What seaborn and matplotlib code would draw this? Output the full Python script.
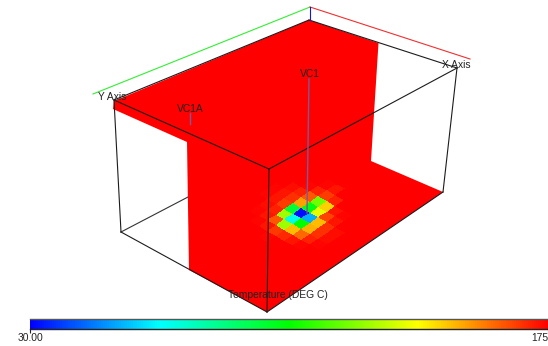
import numpy as np
import pandas as pd
import matplotlib
matplotlib.use('Agg')
import matplotlib.pyplot as plt
import seaborn as sns
from matplotlib.colors import LinearSegmentedColormap
from matplotlib.transforms import Affine2D

# temperature cells on the floor around the fire, rows run along b, columns along a
floor_temps = [
    [175, 175, 175, 175, 174, 174, 175, 175, 175],
    [175, 175, 174, 173, 172, 172, 173, 175, 175],
    [175, 174, 172, 170, 166, 168, 170, 174, 175],
    [175, 172, 163, 125, 95, 152, 162, 170, 174],
    [174, 167, 125, 70, 32, 100, 118, 166, 172],
    [175, 169, 148, 103, 55, 135, 145, 170, 175],
    [175, 172, 160, 150, 148, 165, 172, 175, 175],
    [175, 174, 170, 168, 168, 172, 174, 175, 175],
    [175, 175, 174, 173, 173, 175, 175, 175, 175],
]
wall_temps = [
    [173, 170, 173],
    [172, 168, 172],
    [171, 166, 171],
]

# outline of the box and the fluid surface, in screen pixels
surface_x = [114, 309, 378.5, 371, 443, 267, 189, 187, 113]
surface_y = [101, 20, 43, 161, 192, 312, 270, 142, 109]
back_edges = [((121, 232), (188, 197))]
front_edges = [
    ((114, 100), (309, 20)), ((309, 20), (457, 68)), ((457, 68), (269, 169)),
    ((269, 169), (114, 100)), ((114, 100), (121, 232)), ((269, 169), (267, 312)),
    ((457, 68), (443, 192)), ((121, 232), (267, 312)), ((267, 312), (443, 192)),
]
axis_lines = [
    ((93, 94), (310, 7), '#33ee33'),
    ((310, 7), (470, 59), '#f03030'),
    ((310, 7), (310, 20), '#1515e0'),
]
probes = [((309, 79), (307, 213)), ((190, 113), (190, 124))]
labels = [
    ('Y Axis', 112, 97), ('X Axis', 456, 65), ('VC1', 310, 74), ('VC1A', 190, 109),
    ('Temperature (DEG C)', 278, 295),
]
cbar_min, cbar_max = 30, 175
cbar_colors = ['#0000ff', '#00ffff', '#00ff00', '#ffff00', '#ff0000']

plt.rcParams['font.family'] = ['Liberation Sans', 'DejaVu Sans']
W, H = 548, 346
cmap = LinearSegmentedColormap.from_list('vis', cbar_colors)

fig = plt.figure(figsize=(W / 100, H / 100), dpi=100)
ax = fig.add_axes([0, 0, 1, 1])
cax = fig.add_axes([30 / W, 1 - 329 / H, 518 / W, 10.5 / H])

for (x0, y0), (x1, y1) in back_edges:
    ax.plot([x0, x1], [y0, y1], color='#333333', lw=0.8, zorder=1)
ax.fill(surface_x, surface_y, color='#ff0000', lw=0, zorder=2)


def skewed_heatmap(values, u, v, corner, **kw):
    # draw a seaborn heatmap, then shear its cells onto the sloped surface
    sns.heatmap(pd.DataFrame(values), ax=ax, cmap=cmap, vmin=cbar_min, vmax=cbar_max,
                xticklabels=False, yticklabels=False, **kw)
    mesh = ax.collections[-1]
    mesh.set_transform(Affine2D.from_values(u[0], u[1], v[0], v[1], corner[0], corner[1]) + ax.transData)
    mesh.set_zorder(3)


skewed_heatmap(wall_temps, (3.6, -2.4), (0, 8.5), (284, 186), cbar=False)
# centre cell of the floor grid sits on the fire at (302, 213)
skewed_heatmap(floor_temps, (8.5, -5.8), (8.5, 4.8), (302 - 4.5 * 17, 213 + 4.5 * 1),
               cbar=True, cbar_ax=cax, cbar_kws={'orientation': 'horizontal'})

for (x0, y0), (x1, y1) in front_edges:
    ax.plot([x0, x1], [y0, y1], color='#1c1c1c', lw=0.8, zorder=4)
for (x0, y0), (x1, y1), c in axis_lines:
    ax.plot([x0, x1], [y0, y1], color=c, lw=0.8, zorder=4)
for (x0, y0), (x1, y1) in probes:
    ax.plot([x0, x1], [y0, y1], color='#7a5a9a', lw=1.0, zorder=5)
for txt, x, y in labels:
    ax.text(x, y, txt, ha='center', va='center', fontsize=7.4, color='#222222', zorder=6)

ax.set_xlim(0, W)
ax.set_ylim(H, 0)
ax.axis('off')

cax.set_xticks([cbar_min, cbar_max], ['30.00', '175'], fontsize=7.4, color='#222222')
cax.get_xticklabels()[1].set_ha('right')
cax.tick_params(axis='x', length=3, width=0.8, pad=0, color='#222222')
for name, sp in cax.spines.items():
    sp.set_visible(name in ('top', 'bottom'))
    sp.set_color('#555555' if name == 'top' else '#222222')
    sp.set_linewidth(1.0)

fig.savefig('out.png', dpi=100)
